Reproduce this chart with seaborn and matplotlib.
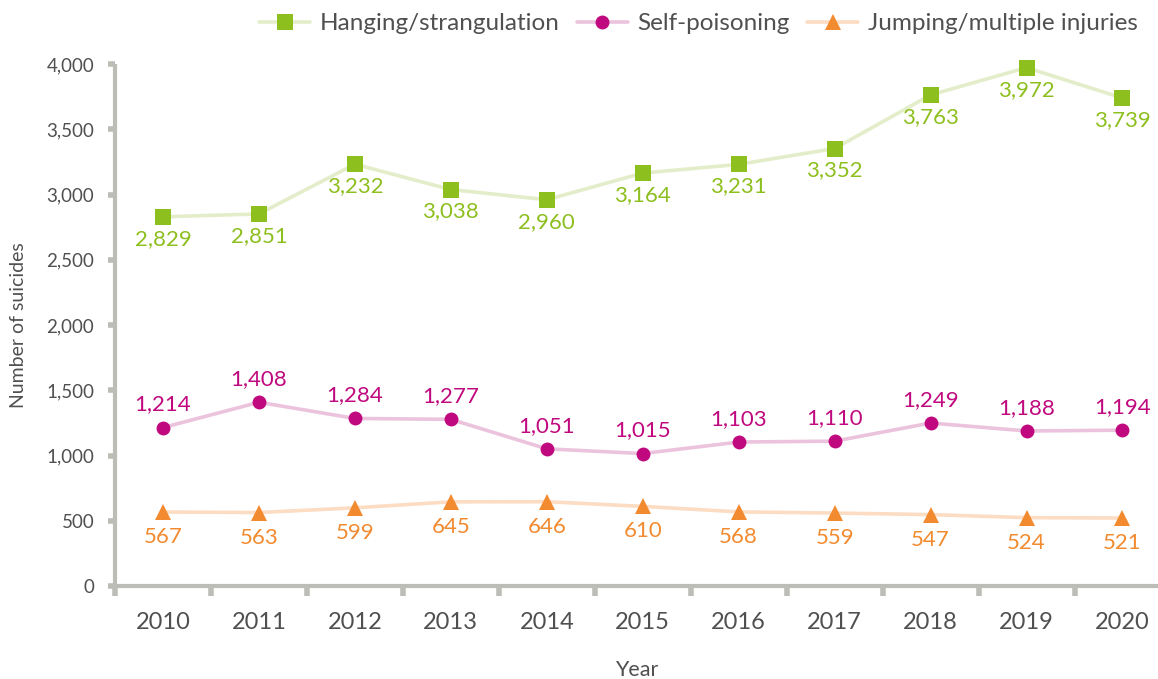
import matplotlib
matplotlib.use("Agg")
import matplotlib.pyplot as plt
import numpy as np
import pandas as pd
import seaborn as sns
from matplotlib.ticker import FixedLocator, FuncFormatter

years = [2010, 2011, 2012, 2013, 2014, 2015, 2016, 2017, 2018, 2019, 2020]
hanging = [2829, 2851, 3232, 3038, 2960, 3164, 3231, 3352, 3763, 3972, 3739]
poisoning = [1214, 1408, 1284, 1277, 1051, 1015, 1103, 1110, 1249, 1188, 1194]
jumping = [567, 563, 599, 645, 646, 610, 568, 559, 547, 524, 521]

series_names = ["Hanging/strangulation", "Self-poisoning", "Jumping/multiple injuries"]
dark_colors = ["#8dbf1f", "#c0097f", "#f28a2f"]
light_colors = ["#e4edca", "#ebc3dd", "#fcdcc2"]
markers = ["s", "o", "^"]
marker_sizes = [11, 10, 12]
label_offsets = [-22, 23, -25]  # pixels, below (-) or above (+)

TEXT = "#505050"
AXIS = "#bdbdb7"

sns.set_theme(style="white")
plt.rcParams["font.family"] = ["Lato", "DejaVu Sans"]

df = pd.DataFrame({"Year": years, series_names[0]: hanging,
                   series_names[1]: poisoning, series_names[2]: jumping})

fig = plt.figure(figsize=(11.58, 6.79), dpi=100)
ax = fig.add_axes([115 / 1158, 1 - 586 / 679, 1 - 115 / 1158, (586 - 64) / 679])

for i, name in enumerate(series_names):
    sns.lineplot(data=df, x="Year", y=name, ax=ax, color=light_colors[i],
                 linewidth=2.6, marker=markers[i], markersize=marker_sizes[i],
                 markerfacecolor=dark_colors[i], markeredgecolor=dark_colors[i],
                 markeredgewidth=0, label=name, clip_on=False, zorder=3)
    for x, y in zip(years, df[name]):
        ax.annotate(f"{y:,}", (x, y), xytext=(0, label_offsets[i] * 0.72),
                    textcoords="offset points", ha="center", va="center",
                    fontsize=16, color=dark_colors[i])

ax.set_xlim(2009.5, 2020.37)
ax.set_ylim(0, 4000)
ax.set_yticks(np.arange(0, 4001, 500))
ax.yaxis.set_major_formatter(FuncFormatter(lambda v, p: f"{int(v):,}"))
ax.set_xticks(years)
ax.set_xticklabels([str(y) for y in years])
ax.xaxis.set_minor_locator(FixedLocator([y - 0.5 for y in years]))

ax.tick_params(axis="x", which="major", length=0, pad=19, labelsize=17, labelcolor=TEXT)
ax.tick_params(axis="x", which="minor", length=7, width=4, color=AXIS, direction="out", bottom=True)
ax.tick_params(axis="y", length=5, width=4, color=AXIS, pad=10, labelsize=13.5,
               labelcolor=TEXT, left=True)

for side in ["top", "right"]:
    ax.spines[side].set_visible(False)
for side in ["left", "bottom"]:
    ax.spines[side].set_color(AXIS)
    ax.spines[side].set_linewidth(3)
    ax.spines[side].set_capstyle("butt")

ax.set_xlabel("Year", fontsize=15.5, color=TEXT, labelpad=19)
ax.set_ylabel("Number of suicides", fontsize=14, color=TEXT, labelpad=14)

leg = ax.legend(loc="upper right", bbox_to_anchor=(0.994, 1.0), bbox_transform=fig.transFigure,
                ncol=3, frameon=False, fontsize=17.5, handlelength=2.1, columnspacing=0.7,
                handletextpad=0.4, borderaxespad=0.15)
for t in leg.get_texts():
    t.set_color(TEXT)

fig.savefig("out.png", dpi=100)
